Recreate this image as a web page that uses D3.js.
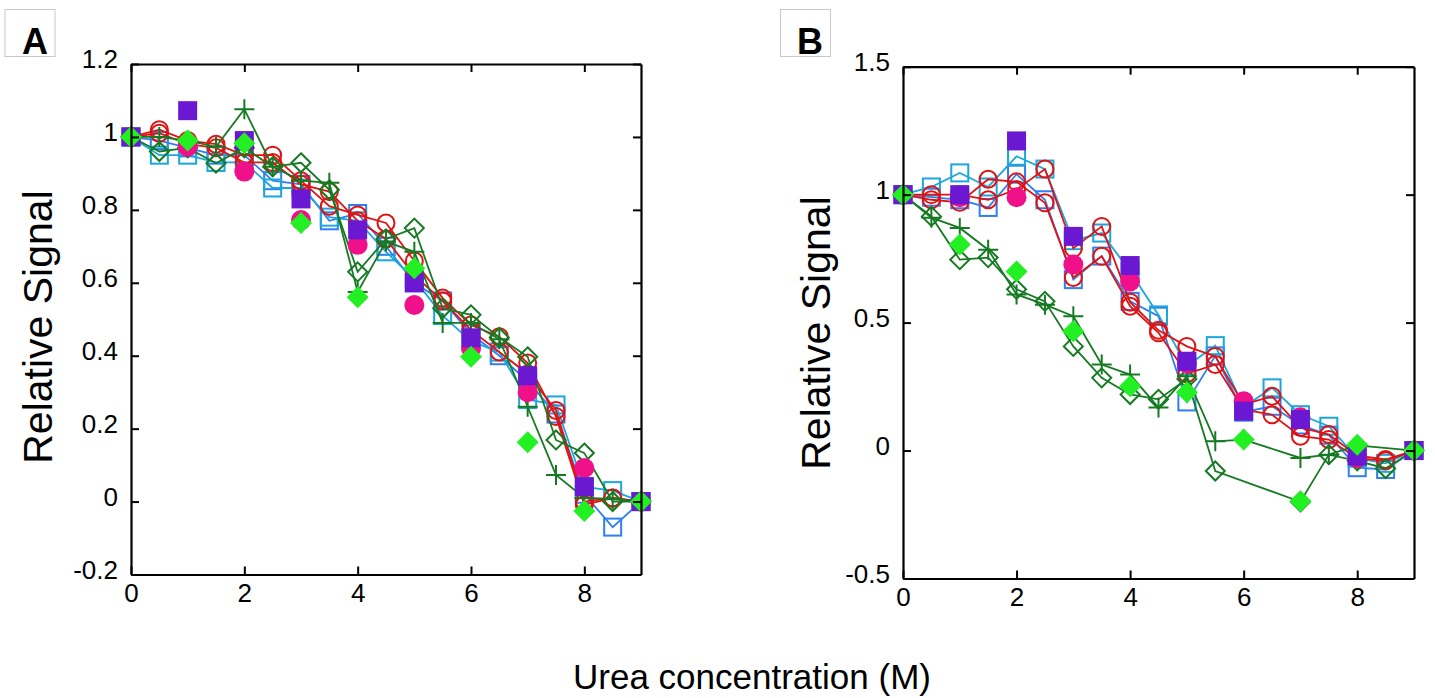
<!DOCTYPE html>
<html>
<head>
<meta charset="utf-8">
<script src="https://cdn.jsdelivr.net/npm/d3@7"></script>
<style>
  html, body { margin: 0; padding: 0; background: #fff; }
  svg { display: block; font-family: "Liberation Sans", Arial, sans-serif; }
</style>
</head>
<body>
<svg id="chart" width="1435" height="698"></svg>
<script>
// Urea concentrations (M) sampled every 0.5 M, and whole-molar points for the filled symbols
const ureaHalf = [0, 0.5, 1, 1.5, 2, 2.5, 3, 3.5, 4, 4.5, 5, 5.5, 6, 6.5, 7, 7.5, 8, 8.5, 9];
const ureaWhole = [0, 1, 2, 3, 4, 5, 6, 7, 8, 9];

// Panel A — relative signal
const aBlueSq   = [1.00, 0.99, 0.97, 0.95, 0.95, 0.88, 0.87, 0.77, 0.79, 0.70, 0.60, 0.55, 0.46, 0.40, 0.33, 0.24, 0.02, -0.07, 0];
const aCyanSq   = [1.00, 0.95, 0.95, 0.93, 0.93, 0.86, 0.86, 0.78, 0.77, 0.685, 0.61, 0.51, 0.44, 0.41, 0.28, 0.265, 0.04, 0.03, 0];
const aRed1     = [1.00, 1.02, 0.99, 0.98, 0.95, 0.95, 0.88, 0.81, 0.786, 0.764, 0.66, 0.558, 0.484, 0.452, 0.38, 0.233, -0.009, 0.01, 0];
const aRed2     = [1.00, 1.01, 0.98, 0.97, 0.93, 0.93, 0.87, 0.85, 0.77, 0.72, 0.62, 0.55, 0.47, 0.41, 0.35, 0.25, 0.00, 0.01, 0];
const aOpenDia  = [1.00, 0.96, 0.97, 0.928, 0.97, 0.918, 0.929, 0.855, 0.63, 0.72, 0.75, 0.53, 0.512, 0.45, 0.397, 0.169, 0.133, 0.00, 0];
const aPlus     = [1.00, 1.00, 0.99, 0.973, 1.076, 0.918, 0.88, 0.874, 0.575, 0.713, 0.685, 0.49, 0.49, 0.445, 0.26, 0.073, 0.01, 0.007, 0];
const aPurple   = [1.00, 1.072, 0.99, 0.83, 0.745, 0.60, 0.449, 0.345, 0.041, 0];
const aPink     = [1.00, 0.973, 0.905, 0.772, 0.704, 0.539, 0.42, 0.30, 0.092, 0];
const aGreen    = [1.00, 0.99, 0.983, 0.764, 0.56, 0.64, 0.397, 0.163, -0.026, 0];

// Panel B — relative signal (null = no measurement)
const bBlueSq   = [1.00, 0.99, 0.98, 0.95, 1.08, 0.98, 0.668, 0.76, 0.583, 0.525, 0.19, 0.37, 0.15, 0.173, 0.10, 0.06, -0.067, -0.074, 0];
const bCyanSq   = [1.00, 1.03, 1.085, 1.03, 1.15, 1.10, 0.82, 0.85, 0.70, 0.53, 0.33, 0.41, 0.17, 0.245, 0.14, 0.095, -0.03, -0.05, 0];
const bRed1     = [1.00, 1.00, 1.00, 0.98, 1.02, 1.10, 0.79, 0.876, 0.58, 0.47, 0.407, 0.368, 0.18, 0.212, 0.09, 0.0625, -0.02, -0.035, 0];
const bRed2     = [1.00, 0.98, 0.97, 1.06, 1.05, 0.968, 0.676, 0.759, 0.564, 0.46, 0.30, 0.336, 0.16, 0.14, 0.056, 0.043, -0.03, -0.04, 0];
const bOpenDia  = [1.00, 0.915, 0.746, 0.754, 0.63, 0.583, 0.407, 0.284, 0.219, 0.20, 0.28, -0.08, null, null, -0.20, -0.016, -0.04, -0.07, 0];
const bPlus     = [1.00, 0.91, 0.87, 0.785, 0.61, 0.57, 0.525, 0.336, 0.297, 0.168, 0.29, 0.036, 0.043, null, -0.029, -0.016, 0.02, null, 0];
const bPurple   = [1.00, 1.00, 1.21, 0.837, 0.723, 0.349, 0.154, 0.121, -0.022, 0];
const bPink     = [1.00, 0.99, 0.99, 0.727, 0.661, 0.34, 0.193, 0.13, -0.03, 0];
const bGreen    = [1.00, 0.805, 0.70, 0.466, 0.251, 0.228, 0.043, -0.198, 0.023, 0];

// Tick labels
const xTicks = [0, 2, 4, 6, 8];
const aYTicks = [-0.2, 0, 0.2, 0.4, 0.6, 0.8, 1, 1.2];
const bYTicks = [-0.5, 0, 0.5, 1, 1.5];

const panelLabels = ["A", "B"];
const yTitle = "Relative Signal";
const xTitle = "Urea concentration (M)";

// Series colours
const COL = {
  blue: "#2f7ff0",
  cyan: "#1aa6de",
  red: "#e01212",
  pink: "#f0108a",
  purple: "#6a18d2",
  green: "#22f022",
  dark: "#157a22"
};

const svg = d3.select("#chart");

function makeSeries(half, whole, data) {
  return [
    { xs: half, ys: data.blue, color: COL.blue, shape: "square", fill: false, line: true },
    { xs: half, ys: data.cyan, color: COL.cyan, shape: "square", fill: false, line: true },
    { xs: half, ys: data.red1, color: COL.red, shape: "circle", fill: false, line: true },
    { xs: half, ys: data.red2, color: COL.red, shape: "circle", fill: false, line: true },
    { xs: half, ys: data.openDia, color: COL.dark, shape: "diamond", fill: false, line: true },
    { xs: half, ys: data.plus, color: COL.dark, shape: "plus", fill: false, line: true },
    { xs: whole, ys: data.pink, color: COL.pink, shape: "circle", fill: true, line: false },
    { xs: whole, ys: data.purple, color: COL.purple, shape: "square", fill: true, line: false },
    { xs: whole, ys: data.green, color: COL.green, shape: "diamond", fill: true, line: false }
  ];
}

function drawMarker(g, shape, fill, color) {
  if (shape === "square") {
    const s = fill ? 19 : 17;
    g.append("rect").attr("x", -s / 2).attr("y", -s / 2).attr("width", s).attr("height", s)
      .attr("fill", fill ? color : "none").attr("stroke", fill ? "none" : color).attr("stroke-width", 2);
  } else if (shape === "circle") {
    const r = fill ? 10 : 8.5;
    g.append("circle").attr("r", r)
      .attr("fill", fill ? color : "none").attr("stroke", fill ? "none" : color).attr("stroke-width", 2);
  } else if (shape === "diamond") {
    const h = fill ? 11 : 9.5;
    g.append("path").attr("d", `M0,${-h}L${h},0L0,${h}L${-h},0Z`)
      .attr("fill", fill ? color : "none").attr("stroke", fill ? "none" : color).attr("stroke-width", 2);
  } else if (shape === "plus") {
    const h = 10;
    g.append("path").attr("d", `M${-h},0H${h}M0,${-h}V${h}`)
      .attr("fill", "none").attr("stroke", color).attr("stroke-width", 2);
  }
}

function drawPanel(cfg) {
  const x = d3.scaleLinear().domain([0, 9]).range([cfg.left, cfg.right]);
  const y = d3.scaleLinear().domain(cfg.yDomain).range([cfg.bottom, cfg.top]);
  const root = svg.append("g");

  // series lines and markers
  cfg.series.forEach(s => {
    const pts = s.xs.map((xv, i) => ({ x: xv, y: s.ys[i] })).filter(p => p.y !== null && p.y !== undefined);
    const sg = root.append("g");
    if (s.line) {
      sg.append("path").datum(pts)
        .attr("d", d3.line().x(p => x(p.x)).y(p => y(p.y)))
        .attr("fill", "none").attr("stroke", s.color).attr("stroke-width", 1.8);
    }
    pts.forEach(p => {
      const mg = sg.append("g").attr("transform", `translate(${x(p.x)},${y(p.y)})`);
      drawMarker(mg, s.shape, s.fill, s.color);
    });
  });

  // frame with inward ticks on all four sides
  const tick = 8;
  const fmt = v => String(v);
  const bottomAxis = root.append("g").attr("transform", `translate(0,${cfg.bottom})`)
    .call(d3.axisBottom(x).tickValues(xTicks).tickFormat(fmt).tickSizeInner(-tick).tickSizeOuter(0).tickPadding(9));
  const topAxis = root.append("g").attr("transform", `translate(0,${cfg.top})`)
    .call(d3.axisTop(x).tickValues(xTicks).tickFormat("").tickSizeInner(-tick).tickSizeOuter(0));
  const leftAxis = root.append("g").attr("transform", `translate(${cfg.left},0)`)
    .call(d3.axisLeft(y).tickValues(cfg.yTicks).tickFormat(fmt).tickSizeInner(-tick).tickSizeOuter(0).tickPadding(13));
  const rightAxis = root.append("g").attr("transform", `translate(${cfg.right},0)`)
    .call(d3.axisRight(y).tickValues(cfg.yTicks).tickFormat("").tickSizeInner(-tick).tickSizeOuter(0));

  [bottomAxis, topAxis, leftAxis, rightAxis].forEach(a => {
    a.select(".domain").attr("stroke", "#000").attr("stroke-width", 2.2);
    a.selectAll(".tick line").attr("stroke", "#000").attr("stroke-width", 2);
    a.selectAll("text").attr("fill", "#000").style("font-size", "26px")
      .style("font-family", "'Liberation Sans', Arial, sans-serif");
  });
  leftAxis.selectAll("text").attr("dy", "0.14em");

  // y-axis title
  root.append("text")
    .attr("transform", `translate(${cfg.titleX},${cfg.titleY}) rotate(-90)`)
    .attr("text-anchor", "middle").attr("dy", "0.35em")
    .style("font-size", "41px").text(yTitle);

  // panel letter in a thin box
  root.append("rect").attr("x", cfg.box[0]).attr("y", 9.5).attr("width", cfg.box[1]).attr("height", 47)
    .attr("fill", "#fff").attr("stroke", "#c8c8c8").attr("stroke-width", 1);
  root.append("text").attr("x", cfg.letterX).attr("y", 53.5).attr("text-anchor", "middle")
    .style("font-size", "36px").style("font-weight", "bold").text(cfg.letter);
}

drawPanel({
  left: 131, right: 641, top: 64, bottom: 574.5, yDomain: [-0.2, 1.2], yTicks: aYTicks,
  titleX: 38, titleY: 327, box: [5, 50], letterX: 35, letter: panelLabels[0],
  series: makeSeries(ureaHalf, ureaWhole, {
    blue: aBlueSq, cyan: aCyanSq, red1: aRed1, red2: aRed2, openDia: aOpenDia, plus: aPlus,
    pink: aPink, purple: aPurple, green: aGreen
  })
});

drawPanel({
  left: 903, right: 1414, top: 66.7, bottom: 578.5, yDomain: [-0.5, 1.5], yTicks: bYTicks,
  titleX: 816, titleY: 333, box: [780.5, 50], letterX: 810, letter: panelLabels[1],
  series: makeSeries(ureaHalf, ureaWhole, {
    blue: bBlueSq, cyan: bCyanSq, red1: bRed1, red2: bRed2, openDia: bOpenDia, plus: bPlus,
    pink: bPink, purple: bPurple, green: bGreen
  })
});

// shared x-axis title
svg.append("text").attr("x", 752).attr("y", 689).attr("text-anchor", "middle")
  .style("font-size", "35px").text(xTitle);
</script>
</body>
</html>
